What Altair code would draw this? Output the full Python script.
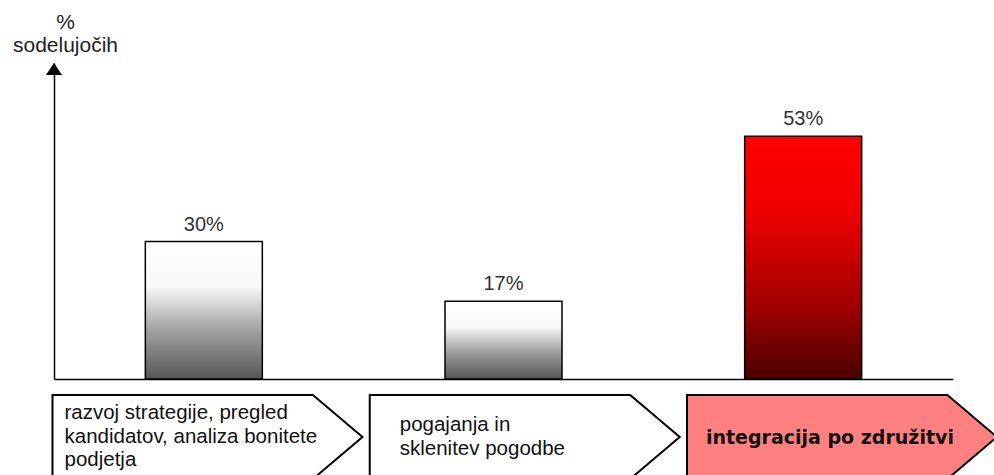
import altair as alt
import pandas as pd

stages = ["s1", "s2", "s3"]
stage_labels = [
    "razvoj strategije, pregled\nkandidatov, analiza bonitete\npodjetja",
    "pogajanja in\nsklenitev pogodbe",
    "integracija po združitvi",
]
values = [30, 17, 53]
value_labels = ["30%", "17%", "53%"]
stage_index = [0, 1, 2]
stage_fill = ["white", "white", "#ff8080"]

df = pd.DataFrame({
    "stage": stages,
    "label": stage_labels,
    "value": values,
    "vlabel": value_labels,
    "idx": stage_index,
})

W, H = 899, 316
FONT = "Liberation Sans"

xband = alt.X("stage:N", scale=alt.Scale(domain=stages, paddingInner=0, paddingOuter=0),
              axis=alt.Axis(labels=False, ticks=False, title=None, domainColor="black",
                            domainWidth=1.5))
yval = alt.Y("value:Q", scale=alt.Scale(domain=[0, 69], nice=False),
             axis=alt.Axis(labels=False, ticks=False, grid=False, domainColor="black",
                           domainWidth=1.5, title=["%", "sodelujočih"], titleAngle=0,
                           titleAlign="center", titleBaseline="middle", titleX=11,
                           titleY=-41, titleFont=FONT, titleFontSize=21,
                           titleFontWeight="normal", titleColor="#222",
                           titleLineHeight=23))

grey_grad = alt.Gradient(gradient="linear", x1=0, y1=0, x2=0, y2=1, stops=[
    alt.GradientStop(offset=0, color="#ffffff"),
    alt.GradientStop(offset=0.33, color="#f8f8f8"),
    alt.GradientStop(offset=0.65, color="#a0a0a0"),
    alt.GradientStop(offset=1, color="#555555"),
])
red_grad = alt.Gradient(gradient="linear", x1=0, y1=0, x2=0, y2=1, stops=[
    alt.GradientStop(offset=0, color="#ff0000"),
    alt.GradientStop(offset=0.3, color="#f00000"),
    alt.GradientStop(offset=0.7, color="#a00000"),
    alt.GradientStop(offset=1, color="#4a0000"),
])

base = alt.Chart(df)
bars_grey = base.transform_filter(alt.datum.stage != "s3").mark_bar(
    width=117, color=grey_grad, stroke="black", strokeWidth=1.5
).encode(x=xband, y=yval)
bars_red = base.transform_filter(alt.datum.stage == "s3").mark_bar(
    width=117, color=red_grad, stroke="black", strokeWidth=1.5
).encode(x=xband, y=yval)
vlabels = base.mark_text(baseline="alphabetic", dy=-11, font=FONT, fontSize=20,
                         color="#333").encode(x=xband, y=yval, text="vlabel:N")
arrow = base.transform_filter(alt.datum.stage == "s1").mark_point(
    shape="M 0 -0.75 L 1 0.75 L -1 0.75 Z", filled=True, color="black", opacity=1,
    size=256, strokeWidth=0
).encode(x=alt.value(0), y=alt.value(6))

bar_layer = alt.layer(bars_grey, bars_red, vlabels, arrow)

xq = alt.X("idx:Q", scale=alt.Scale(domain=[-0.4838, 2.3499], nice=False, zero=False),
           axis=None)
chev = base.mark_point(
    shape="M -1 -0.271 L 0.68 -0.271 L 1 0 L 0.587 0.35 L -1 0.35 Z",
    filled=True, size=96100, stroke="black", strokeWidth=2, opacity=1
).encode(
    x=xq, y=alt.value(374),
    color=alt.Color("stage:N", scale=alt.Scale(domain=stages, range=stage_fill), legend=None),
)
t1 = base.transform_filter(alt.datum.stage == "s1").mark_text(
    align="left", baseline="middle", lineBreak="\n", lineHeight=23.5, dx=-143,
    font=FONT, fontSize=20.5, color="#111").encode(x=xq, y=alt.value(350), text="label:N")
t2 = base.transform_filter(alt.datum.stage == "s2").mark_text(
    align="left", baseline="middle", lineBreak="\n", lineHeight=23.5, dx=-125,
    font=FONT, fontSize=20.5, color="#111").encode(x=xq, y=alt.value(362), text="label:N")
t3 = base.transform_filter(alt.datum.stage == "s3").mark_text(
    align="left", baseline="middle", dx=-136, font="DejaVu Sans", fontWeight="bold",
    fontSize=19, color="#111").encode(x=xq, y=alt.value(375), text="label:N")

chev_layer = alt.layer(chev, t1, t2, t3)

chart = alt.layer(bar_layer, chev_layer).resolve_scale(
    x="independent", color="independent"
).properties(
    width=W, height=H,
    autosize=alt.AutoSizeParams(type="none"),
    padding={"left": 54, "top": 63, "right": 41, "bottom": 96},
    background="white",
).configure_view(stroke=None)

chart.save("out.html", embed_options={"renderer": "svg", "actions": False})
